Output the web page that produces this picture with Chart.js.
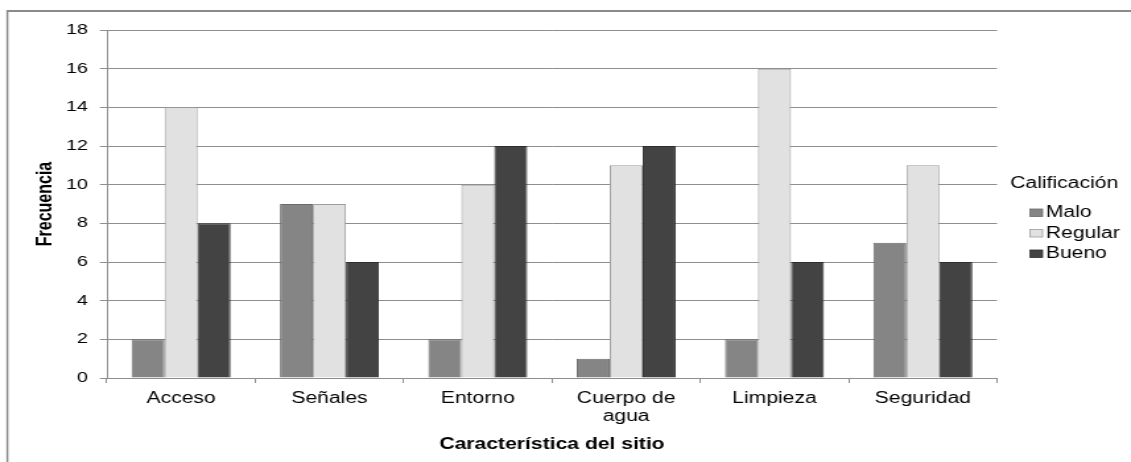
<!DOCTYPE html>
<html>
<head>
<meta charset="utf-8">
<script src="https://cdn.jsdelivr.net/npm/chart.js@4.4.1/dist/chart.umd.min.js"></script>
<style>
  html, body { margin: 0; padding: 0; background: #ffffff; overflow: hidden; }
  /* the source picture is stretched sideways, so the chart is drawn narrow and widened */
  #wrap {
    position: absolute; left: 0; top: 0;
    width: 857px; height: 462px;
    transform: scaleX(1.3197); transform-origin: 0 0;
  }
</style>
</head>
<body>
<div id="wrap"><canvas id="chart" width="857" height="462"></canvas></div>
<script>
// Data
const categories = ["Acceso", "Señales", "Entorno", ["Cuerpo de", "agua"], "Limpieza", "Seguridad"];
const seriesNames = ["Malo", "Regular", "Bueno"];
const maloValues = [2, 9, 2, 1, 2, 7];
const regularValues = [14, 9, 10, 11, 16, 11];
const buenoValues = [8, 6, 12, 12, 6, 6];
const yTicks = [0, 2, 4, 6, 8, 10, 12, 14, 16, 18];

const FONT = "'Liberation Sans', Arial, sans-serif";
const GRID = "#8e8e8e";

// Frame round the whole picture
const framePlugin = {
  id: "frame",
  beforeDraw(chart) {
    const ctx = chart.ctx;
    ctx.save();
    ctx.strokeStyle = "#8a8a8a";
    ctx.lineWidth = 2;
    ctx.beginPath();
    ctx.moveTo(5, 11);
    ctx.lineTo(chart.width + 5, 11);
    ctx.stroke();
    ctx.lineWidth = 1.5;
    ctx.beginPath();
    ctx.moveTo(5.6, 10);
    ctx.lineTo(5.6, chart.height + 5);
    ctx.stroke();
    ctx.restore();
  },
};

// Legend on the right, with its title, built from the datasets
const sideLegend = {
  id: "sideLegend",
  afterDraw(chart) {
    const ctx = chart.ctx;
    const area = chart.chartArea;
    const mid = (area.top + area.bottom) / 2;
    ctx.save();
    ctx.font = "16px " + FONT;
    ctx.fillStyle = "#000000";
    ctx.textBaseline = "middle";
    ctx.textAlign = "left";
    ctx.fillText("Calificación", area.right + 10, mid - 20);
    chart.data.datasets.forEach((ds, i) => {
      const y = mid + 9 + i * 20.5;
      ctx.fillStyle = ds.backgroundColor;
      ctx.strokeStyle = ds.borderColor;
      ctx.lineWidth = 0.8;
      ctx.fillRect(area.right + 25, y - 4, 9.5, 7.5);
      ctx.strokeRect(area.right + 25, y - 4, 9.5, 7.5);
      ctx.fillStyle = "#000000";
      ctx.fillText(ds.label, area.right + 37, y);
    });
    ctx.restore();
  },
};

const ctx = document.getElementById("chart").getContext("2d");

new Chart(ctx, {
  type: "bar",
  data: {
    labels: categories,
    datasets: [
      {
        label: seriesNames[0],
        data: maloValues,
        backgroundColor: "#858585",
        borderColor: "#6a6a6a",
        borderWidth: 1,
      },
      {
        label: seriesNames[1],
        data: regularValues,
        backgroundColor: "#e1e1e1",
        borderColor: "#9c9c9c",
        borderWidth: 1,
      },
      {
        label: seriesNames[2],
        data: buenoValues,
        backgroundColor: "#434343",
        borderColor: "#2e2e2e",
        borderWidth: 1,
      },
    ],
  },
  options: {
    responsive: false,
    animation: false,
    devicePixelRatio: 1,
    layout: {
      padding: { top: 30, right: 101.5, bottom: 0, left: 0 },
    },
    datasets: {
      bar: {
        categoryPercentage: 0.667,
        barPercentage: 1.0,
      },
    },
    scales: {
      x: {
        offset: true,
        grid: {
          display: true,
          drawOnChartArea: false,
          drawTicks: true,
          tickLength: 5,
          color: GRID,
          offset: true,
        },
        border: { display: true, color: GRID, width: 1 },
        ticks: {
          color: "#000000",
          padding: 7,
          maxRotation: 0,
          autoSkip: false,
          font: { family: FONT, size: 16, lineHeight: 1.1 },
        },
        title: {
          display: true,
          text: "Característica del sitio",
          color: "#000000",
          font: { family: FONT, size: 16, weight: "bold" },
          padding: { top: 0, bottom: 8 },
        },
        afterFit(scale) {
          scale.height = 84;
        },
      },
      y: {
        min: 0,
        max: 18,
        afterBuildTicks(scale) {
          scale.ticks = yTicks.map((v) => ({ value: v }));
        },
        grid: {
          color: GRID,
          lineWidth: 1,
          drawTicks: true,
          tickLength: 5.3,
        },
        border: { display: true, color: GRID, width: 1 },
        ticks: {
          color: "#000000",
          padding: 9,
          font: { family: FONT, size: 15 },
        },
        title: {
          display: true,
          text: "Frecuencia",
          color: "#000000",
          font: { family: FONT, size: 16, weight: "bold" },
          padding: { top: 25, bottom: 0 },
        },
        afterFit(scale) {
          scale.width = 81;
        },
      },
    },
    plugins: {
      legend: { display: false },
      tooltip: { enabled: false },
    },
  },
  plugins: [framePlugin, sideLegend],
});
</script>
</body>
</html>
